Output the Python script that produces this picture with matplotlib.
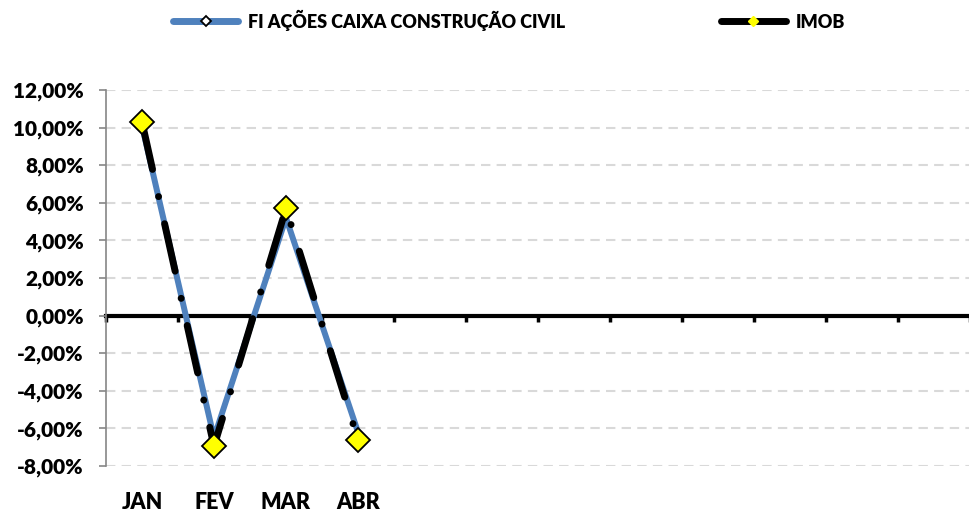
import numpy as np
import matplotlib
matplotlib.use("Agg")
import matplotlib.pyplot as plt
from matplotlib.lines import Line2D
from matplotlib.ticker import FuncFormatter, FixedLocator

# data (monthly returns, %)
months = ["JAN", "FEV", "MAR", "ABR", "", "", "", "", "", "", "", ""]
fi_caixa = [10.1, -6.5, 5.2, -6.2]
imob = [10.3, -6.95, 5.7, -6.6]
y_ticks = [-8, -6, -4, -2, 0, 2, 4, 6, 8, 10, 12]

plt.rcParams['font.family'] = ['Lato', 'DejaVu Sans']
plt.rcParams['font.weight'] = 'heavy'

fig = plt.figure(figsize=(9.7, 5.12), dpi=100)
ax = fig.add_axes([106 / 970, 1 - 466 / 512, 1 - 106 / 970, (466 - 90) / 512])

x = np.arange(len(months))
ymin, ymax = y_ticks[0], y_ticks[-1]

# dashed grid
for v in y_ticks:
    if v != 0:
        ax.axhline(v, color='#d9d9d9', lw=1.5, ls=(0, (4.5, 3)), zorder=0)

# zero line with category boundary ticks
zpos = (0 - ymin) / (ymax - ymin)
sec = ax.secondary_xaxis(zpos)
sec.spines['bottom'].set_linewidth(3)
sec.spines['bottom'].set_color('black')
sec.xaxis.set_major_locator(FixedLocator(np.arange(-0.5, len(months), 1.0)))
sec.tick_params(axis='x', length=4, width=2.5, color='black', direction='out', labelbottom=False)
sec.set_zorder(1)

ax.plot(x[:len(fi_caixa)], fi_caixa, color='#4f81bd', lw=4.3, solid_capstyle='round',
        solid_joinstyle='round', zorder=3)
ax.plot(x[:len(imob)], imob, color='black', lw=5, ls=(0, (7, 4, 0.01, 4)),
        dash_capstyle='round', zorder=4)
ax.plot(x[:len(imob)], imob, ls='none', marker='D', ms=12, mfc='#ffff00', mec='black',
        mew=1.3, zorder=5)

ax.set_xlim(-0.5, len(months) - 0.5)
ax.set_ylim(ymin, ymax)
ax.set_xticks(x)
ax.set_xticklabels(months, fontsize=15.5, fontweight='heavy')
ax.tick_params(axis='x', length=0, pad=19)
ax.set_yticks(y_ticks)
ax.yaxis.set_major_formatter(FuncFormatter(lambda v, p: f"{v:.2f}%".replace('.', ',')))
ax.tick_params(axis='y', length=5, width=1.2, color='#868686', labelsize=15, pad=11)
for lab in ax.get_yticklabels():
    lab.set_fontweight('heavy')

for s in ['top', 'right', 'bottom']:
    ax.spines[s].set_visible(False)
ax.spines['left'].set_color('#868686')
ax.spines['left'].set_linewidth(1.2)

handles = [
    Line2D([], [], color='#4f81bd', lw=5, marker='D', ms=5, mfc='white', mec='black',
           mew=1.3, solid_capstyle='round'),
    Line2D([], [], color='black', lw=5, marker='D', ms=5, mfc='#ffff00', mec='#ffff00',
           solid_capstyle='round'),
]
fig.legend(handles, ['FI AÇÕES CAIXA CONSTRUÇÃO CIVIL', 'IMOB'], loc='center',
           bbox_to_anchor=(509 / 970, 1 - 20 / 512), ncol=2, frameon=False,
           handlelength=3.6, columnspacing=8.6, handletextpad=0.55,
           prop={'weight': 'heavy', 'size': 13})

fig.savefig('out.png', dpi=100)
